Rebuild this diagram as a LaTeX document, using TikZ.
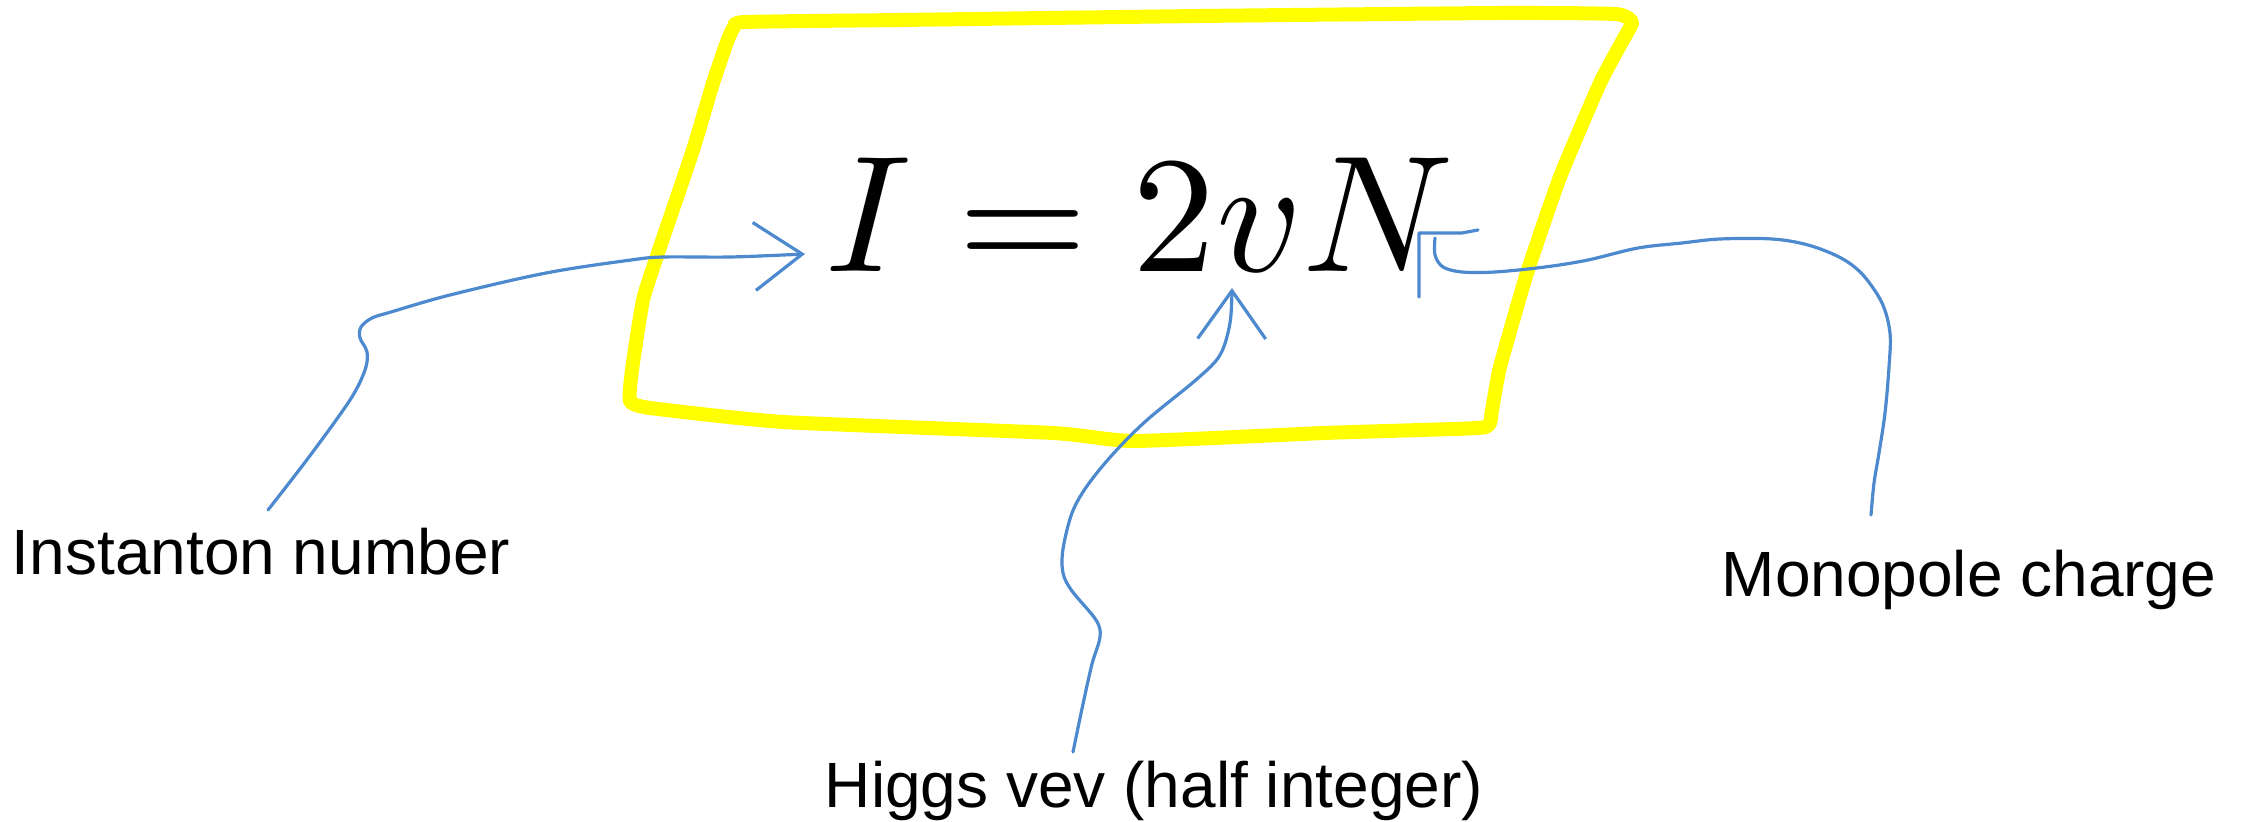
\documentclass[tikz,border=0pt]{standalone}
\usepackage{fontspec}
\newfontfamily\arialfont{Liberation Sans}
\usepackage{xcolor}
\usepackage{tikz}
\usetikzlibrary{arrows.meta}

\definecolor{inkblue}{RGB}{77,137,206}
\definecolor{inkyellow}{RGB}{255,255,0}

\begin{document}
\begin{tikzpicture}[
    x=0.5pt, y=-0.5pt,
    >={Straight Barb[length=24pt, width=34pt]},
    every node/.style={inner sep=0pt},
    note/.style={
        font=\arialfont\fontsize{32}{38}\selectfont,
        anchor=base
    },
    pointer/.style={
        draw=inkblue,
        line width=1.6pt,
        line cap=round,
        line join=round
    },
    highlight/.style={
        draw=inkyellow,
        line width=7pt,
        line cap=round,
        line join=round
    }
]
\useasboundingbox (0,0) rectangle (2244,822);

% ==========================================================
% HIGHLIGHT BOX
% ==========================================================
\draw[highlight] plot[smooth cycle, tension=0.3] coordinates {
    (745,22) (900,20) (1200,16) (1500,13) (1615,14) (1632,22) (1623,40)
    (1600,83) (1560,177) (1527,273) (1500,367) (1492,410) (1486,427)
    (1420,430) (1324,433) (1134,441) (1053,433) (783,422) (650,408)
    (630,401) (632,370) (643,300) (659,250) (693,150) (713,83) (727,42)
    (734,27)};

% ==========================================================
% FORMULA
% ==========================================================
\node[font=\fontsize{10}{12}\selectfont, scale=8.3, anchor=base] (eqn) at (1140,272) {$I = 2vN$};

% ==========================================================
% LABELS
% ==========================================================
\node[note] (instanton) at (261,575) {Instanton number};
\node[note] (higgs) at (1154,808) {Higgs vev (half integer)};
\node[note] (monopole) at (1969,597) {Monopole charge};

% ==========================================================
% POINTERS
% ==========================================================
\coordinate (instTail) at (268,510);
\coordinate (instHead) at (805,254);
\coordinate (higgsTail) at (1073,752);
\coordinate (higgsHead) at (1232,288);
\coordinate (monoTail) at (1871,515);
\coordinate (monoHead) at (1435,238);

% Instanton number
\draw[pointer, ->] plot[smooth, tension=0.55] coordinates {
    (instTail) (309,457) (350,400) (365,370) (367,352) (360,338) (361,327)
    (372,318) (391,312) (450,295) (546,273) (631,260) (664,257) (731,257)
    (instHead)};

% Higgs vev
\draw[pointer, ->] plot[smooth, tension=0.55] coordinates {
    (higgsTail) (1083,704) (1092,664) (1100,637) (1096,620) (1072,591)
    (1063,573) (1063,549) (1072,513) (1087,486) (1113,454) (1147,420)
    (1197,379) (1220,355) (1230,323) (higgsHead)};

% Monopole charge
\draw[pointer] plot[smooth, tension=0.55] coordinates {
    (monoTail) (1874,483) (1879,453) (1885,413) (1889,367) (1890,333)
    (1882,303) (1863,275) (1841,258) (1808,245) (1772,239) (1720,239)
    (1682,243) (1638,248) (1588,260) (1545,267) (1495,272) (1462,272)
    (1443,267) (1435,255) (monoHead)};
\draw[pointer] (1419,297) -- (1419,233) -- (1462,233) -- (1478,230);

\end{tikzpicture}
\end{document}
